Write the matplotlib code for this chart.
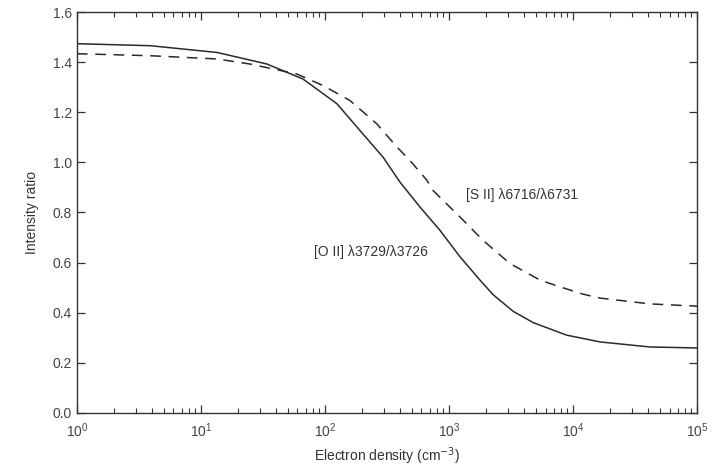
import matplotlib.pyplot as plt
from matplotlib.ticker import LogLocator, NullFormatter

plt.rcParams['font.family'] = ['Liberation Sans', 'DejaVu Sans']

# [O II] 3729/3726 (solid)
oii_density = [1, 3.9, 13.5, 34, 66.5, 125, 202, 294, 403, 583, 845, 1227, 1778,
               2265, 3300, 4786, 8913, 16600, 41700, 100000]
oii_ratio = [1.474, 1.466, 1.439, 1.393, 1.333, 1.234, 1.114, 1.021, 0.921, 0.822, 0.729,
             0.623, 0.530, 0.472, 0.405, 0.36, 0.31, 0.283, 0.263, 0.259]

# [S II] 6716/6731 (dashed)
sii_density = [1, 3.9, 13.5, 24.8, 59.4, 96.4, 159, 262, 381, 484, 665, 743, 1227, 1879,
               3105, 5420, 7852, 12020, 16600, 41700, 100000]
sii_ratio = [1.434, 1.426, 1.413, 1.393, 1.353, 1.307, 1.247, 1.154, 1.061, 1.008, 0.928,
             0.888, 0.782, 0.689, 0.596, 0.530, 0.503, 0.474, 0.458, 0.435, 0.426]

fig = plt.figure(figsize=(7.12, 4.67), dpi=100)
ax = fig.add_axes([0.108, 0.116, 0.871, 0.858])

ax.plot(oii_density, oii_ratio, color='#2a2a2a', lw=1.1, linestyle='-')
ax.plot(sii_density, sii_ratio, color='#2a2a2a', lw=1.1, linestyle=(0, (7, 5)))

ax.set_xscale('log')
ax.set_xlim(1, 1e5)
ax.set_ylim(0, 1.6)
ax.set_yticks([0.0, 0.2, 0.4, 0.6, 0.8, 1.0, 1.2, 1.4, 1.6])
ax.set_yticklabels(['0.0', '0.2', '0.4', '0.6', '0.8', '1.0', '1.2', '1.4', '1.6'])
ax.xaxis.set_major_locator(LogLocator(base=10, numticks=10))
ax.xaxis.set_minor_locator(LogLocator(base=10, subs=range(2, 10), numticks=10))
ax.xaxis.set_minor_formatter(NullFormatter())

ax.tick_params(which='both', direction='in', top=True, right=True, colors='#333333',
               labelcolor='#444444', labelsize=10)
ax.tick_params(which='major', length=6, width=0.9)
ax.tick_params(which='minor', length=3.5, width=0.8)
ax.tick_params(axis='x', pad=6)
for s in ax.spines.values():
    s.set_color('#333333')
    s.set_linewidth(1.0)

ax.set_xlabel('Electron density (cm$^{-3}$)', fontsize=10, color='#333333')
ax.set_ylabel('Intensity ratio', fontsize=10, color='#333333', labelpad=10)

ax.text(1380, 0.868, '[S II] λ6716/λ6731', fontsize=10, color='#333333', ha='left', va='center')
ax.text(676, 0.641, '[O II] λ3729/λ3726', fontsize=10, color='#333333', ha='right', va='center')

fig.savefig('out.png', dpi=100)
